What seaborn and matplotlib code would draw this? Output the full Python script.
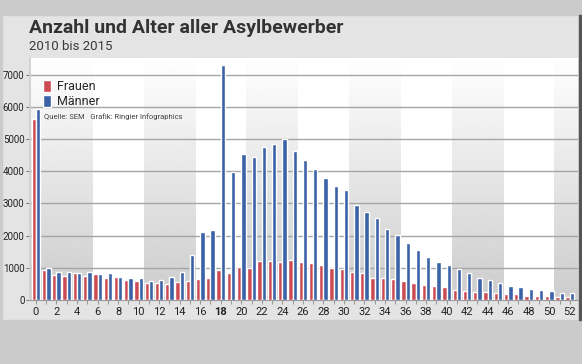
import matplotlib
matplotlib.use("Agg")
import matplotlib.pyplot as plt
from matplotlib import font_manager as fm
from matplotlib.patches import Rectangle
import numpy as np
import pandas as pd
import seaborn as sns

ages = list(range(0, 53))
frauen = [5620, 940, 780, 750, 830, 750, 800, 670, 720, 620, 600, 520, 530, 500, 550, 580,
          665, 670, 930, 850, 1030, 1000, 1210, 1220, 1170, 1230, 1170, 1140, 1090, 980,
          950, 860, 850, 690, 670, 660, 580, 540, 470, 430, 400, 320, 290, 250, 240, 230,
          175, 175, 125, 115, 135, 95, 105]
maenner = [5930, 990, 880, 880, 840, 860, 820, 850, 710, 690, 670, 600, 630, 700, 860, 1410,
           2110, 2190, 7290, 3980, 4530, 4440, 4750, 4860, 4990, 4620, 4360, 4070, 3800, 3530,
           3430, 2960, 2730, 2540, 2200, 2010, 1770, 1550, 1340, 1190, 1100, 950, 845, 690,
           610, 540, 430, 400, 330, 310, 290, 230, 220]
series_names = ["Frauen", "Männer"]
colors = ["#cc4a54", "#3a62a6"]
yticks = [0, 1000, 2000, 3000, 4000, 5000, 6000, 7000]

df = pd.DataFrame({
    "Alter": ages * 2,
    "Geschlecht": ["Frauen"] * len(ages) + ["Männer"] * len(ages),
    "Anzahl": frauen + maenner,
})

sns.set_theme(style="white")
avail = {f.name for f in fm.fontManager.ttflist}
cond = "Liberation Sans Narrow" if "Liberation Sans Narrow" in avail else "Roboto"
plt.rcParams["font.family"] = [cond, "DejaVu Sans"]

fig = plt.figure(figsize=(5.82, 3.64), dpi=100, facecolor="#e4e4e4")
# outer bands
fig.patches.append(Rectangle((0, 1 - 15 / 364), 1, 15 / 364, transform=fig.transFigure,
                             color="#cbcbcb", zorder=-5))
fig.patches.append(Rectangle((0, 0), 1, 44 / 364, transform=fig.transFigure,
                             color="#cbcbcb", zorder=-5))
fig.patches.append(Rectangle((0, 0), 2 / 582, 1, transform=fig.transFigure,
                             color="#cbcbcb", zorder=-5))
fig.patches.append(Rectangle((579 / 582, 44 / 364), 2 / 582, 1 - 59 / 364,
                             transform=fig.transFigure, color="#555555", zorder=-4))

ax = fig.add_axes([30 / 582, 64 / 364, 548 / 582, 242 / 364])
ax.set_facecolor("white")

xmin, xmax, ymax = -0.58, 52.8, 7520
grad = np.linspace(0.80, 1.0, 256).reshape(-1, 1)
edges = [xmin, 5.5, 10.5, 15.5, 20.5, 25.5, 30.5, 35.5, 40.5, 45.5, 50.5, xmax]
for i in range(0, len(edges) - 1, 2):
    ax.imshow(grad, cmap="gray", vmin=0, vmax=1, origin="lower", aspect="auto",
              extent=[edges[i], edges[i + 1], 0, ymax], zorder=0, interpolation="bicubic")

for v in yticks[1:]:
    ax.axhline(v, color="#a5a5a5", lw=1.0, zorder=1)

sns.barplot(data=df, x="Alter", y="Anzahl", hue="Geschlecht", hue_order=series_names,
            palette=colors, width=0.84, saturation=1, ax=ax, zorder=3, legend=True)

ax.set_xlim(xmin, xmax)
ax.set_ylim(0, ymax)
ax.set_xlabel("")
ax.set_ylabel("")
ax.set_yticks(yticks)
ax.set_yticklabels([str(v) for v in yticks], fontsize=7, color="#222222")
ax.set_xticks(ages)
ax.set_xticklabels([str(a) if a % 2 == 0 else "" for a in ages], fontsize=8, color="#222222")
for lab in ax.get_xticklabels():
    if lab.get_text() == "18":
        lab.set_fontweight("bold")
ax.tick_params(axis="y", length=3, width=0.8, color="#777777", pad=1, left=True)
ax.tick_params(axis="x", length=3, width=0.6, color="#888888", pad=2, bottom=True)
for s in ["top", "right"]:
    ax.spines[s].set_visible(False)
ax.spines["left"].set_color("#cfcfcf")
ax.spines["bottom"].set_color("#999999")
ax.spines["bottom"].set_linewidth(0.8)

sns.move_legend(ax, loc="upper left", bbox_to_anchor=(0.015, 0.93), frameon=False,
                title=None, fontsize=9, handlelength=0.6, handleheight=1.1,
                handletextpad=0.5, labelspacing=0.15, borderaxespad=0)

ax.text(0.0255, 0.756, "Quelle: SEM   Grafik: Ringier Infographics", transform=ax.transAxes,
        fontsize=5.5, color="#444444", va="center", ha="left", zorder=5)

fig.text(29 / 582, 1 - 28 / 364, "Anzahl und Alter aller Asylbewerber", fontsize=14,
         fontweight="bold", color="#333333", va="center", ha="left")
fig.text(29 / 582, 1 - 47 / 364, "2010 bis 2015", fontsize=9.5, color="#3a3a3a",
         va="center", ha="left")

fig.savefig("out.png", dpi=100, facecolor=fig.get_facecolor())
